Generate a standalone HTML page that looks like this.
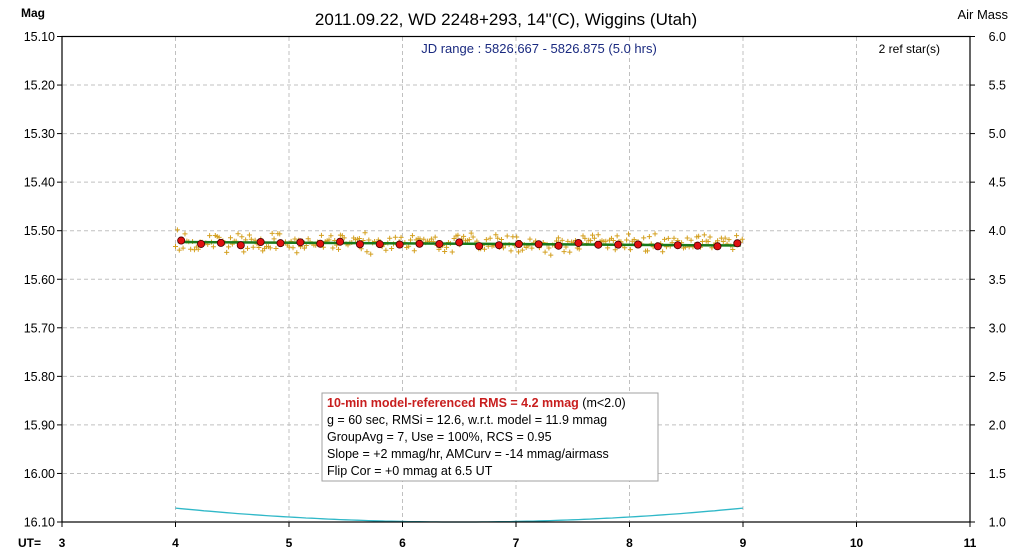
<!DOCTYPE html>
<html><head><meta charset="utf-8"><style>
body{margin:0;background:#fff;}
svg{display:block;font-family:"Liberation Sans",Arial,sans-serif;}
</style></head><body>
<svg id="s" width="1013" height="556" xmlns="http://www.w3.org/2000/svg">
<rect width="1013" height="556" fill="#fff"/>
<g id="grid" stroke="#c0c0c0" stroke-dasharray="4,3" stroke-width="1"></g>
<g id="data"></g>
<rect x="62" y="36.5" width="908" height="485.5" fill="none" stroke="#000" stroke-width="1.2"/>
<g id="lab" font-size="12.5" fill="#000"></g>
<text x="506" y="25" font-size="17" text-anchor="middle">2011.09.22, WD 2248+293, 14"(C), Wiggins (Utah)</text>
<text x="21" y="17" font-size="12" font-weight="bold">Mag</text>
<text x="1008" y="19" font-size="13" text-anchor="end">Air Mass</text>
<text x="539" y="53" font-size="13" fill="#1a2a80" text-anchor="middle">JD range : 5826.667 - 5826.875 (5.0 hrs)</text>
<text x="940" y="53" font-size="12" text-anchor="end">2 ref star(s)</text>
<text x="18" y="547" font-size="12" font-weight="bold">UT=</text>
<rect x="322" y="393" width="336" height="88" fill="#fff" stroke="#a0a0a0"/>
<text x="327" y="407" font-size="12.5"><tspan fill="#c81e1e" font-weight="bold">10-min model-referenced RMS = 4.2 mmag</tspan> (m&lt;2.0)</text>
<text x="327" y="424" font-size="12.5">g = 60 sec, RMSi = 12.6, w.r.t. model = 11.9 mmag</text>
<text x="327" y="441" font-size="12.5">GroupAvg = 7, Use = 100%, RCS = 0.95</text>
<text x="327" y="458" font-size="12.5">Slope = +2 mmag/hr, AMCurv = -14 mmag/airmass</text>
<text x="327" y="475" font-size="12.5">Flip Cor = +0 mmag at 6.5 UT</text>
</svg>
<script>
var NS="http://www.w3.org/2000/svg";
function el(p,t,a,txt){var e=document.createElementNS(NS,t);for(var k in a)e.setAttribute(k,a[k]);if(txt!==undefined)e.textContent=txt;p.appendChild(e);return e;}
var X=function(u){return 62+(u-3)*113.5;};
var Y=function(m){return 36.5+(m-15.1)*485.5;};
var g=document.getElementById('grid'),lab=document.getElementById('lab'),d=document.getElementById('data');
for(var u=4;u<=10;u++)el(g,'line',{x1:X(u),y1:37,x2:X(u),y2:521});
for(var i=1;i<10;i++){var y=Y(15.1+i*0.1);el(g,'line',{x1:63,y1:y,x2:969,y2:y});}
for(var i=0;i<=10;i++){var m=15.1+i*0.1,y=Y(m);
 el(lab,'text',{x:55,y:y+4.5,'text-anchor':'end'},m.toFixed(2));
 el(lab,'text',{x:1006,y:y+4.5,'text-anchor':'end'},(6-i*0.5).toFixed(1));
 el(lab,'line',{x1:57,y1:y,x2:62,y2:y,stroke:'#000'});
 el(lab,'line',{x1:970,y1:y,x2:975,y2:y,stroke:'#000'});}
for(var u=3;u<=11;u++){el(lab,'text',{x:X(u),y:547,'text-anchor':'middle','font-weight':'bold','font-size':'12'},u);
 el(lab,'line',{x1:X(u),y1:522,x2:X(u),y2:527,stroke:'#000'});}
var s=12345;function r(){s=(s*16807)%2147483647;return s/2147483647;}
function gr(){return (r()+r()+r()-1.5)/1.5;}
for(var t=4.0;t<=9.0;t+=0.0167){var x=X(t),y=243+gr()*14;
 el(d,'path',{d:'M'+(x-2.5)+' '+y+'h5M'+x+' '+(y-2.5)+'v5',stroke:'#d4a020','stroke-width':'1'});}
var p='';for(var t=4.0;t<=9.0;t+=0.05){var am=1.0+0.065*Math.pow((t-6.5)/2.5,2)*2.2;p+=(p?'L':'M')+X(t).toFixed(1)+' '+(Y(15.1+(6-am)*0.2)).toFixed(1);}
el(d,'path',{d:p,fill:'none',stroke:'#30b8c8','stroke-width':'1.3'});
el(d,'line',{x1:X(4.02),y1:242,x2:X(8.98),y2:245.5,stroke:'#1a7a1a','stroke-width':'2.5'});
for(var t=4.05;t<=8.98;t+=0.175){var x=X(t),y=242.5+(t-4)*0.7+gr()*4;
 el(d,'circle',{cx:x,cy:y,r:3.6,fill:'#e01010',stroke:'#400','stroke-width':'0.8'});}
</script>
</body></html>
